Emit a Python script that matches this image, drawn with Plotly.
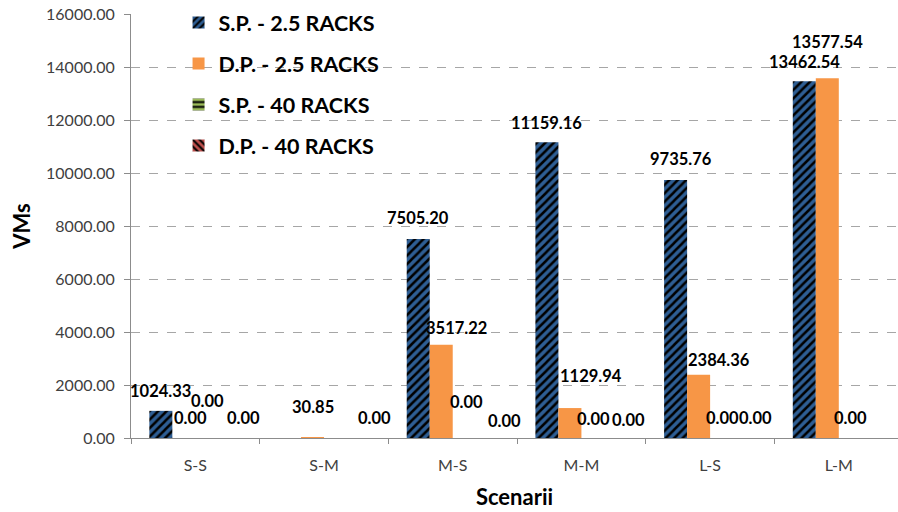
import plotly.graph_objects as go

# Scenario categories and VM counts per configuration
scenarios = ["S-S", "S-M", "M-S", "M-M", "L-S", "L-M"]
series_names = ["S.P. - 2.5 RACKS", "D.P. - 2.5 RACKS", "S.P. - 40 RACKS", "D.P. - 40 RACKS"]
sp_25 = [1024.33, 0.00, 7505.20, 11159.16, 9735.76, 13462.54]
dp_25 = [0.00, 30.85, 3517.22, 1129.94, 2384.36, 13577.54]
sp_40 = [0.00, 0.00, 0.00, 0.00, 0.00, 0.00]
dp_40 = [0.00, 0.00, 0.00, 0.00, 0.00, 0.00]
y_ticks = [0, 2000, 4000, 6000, 8000, 10000, 12000, 14000, 16000]

values = [sp_25, dp_25, sp_40, dp_40]

# Styling per series
colors = ["#2E5E94", "#F79646", "#9BBB59", "#C0504D"]
patterns = ["/", "", "-", "\\"]

# Data-label placement: pixel nudges relative to each bar's centre/top;
# None means the label is not shown.
label_nudge = [
    [(0, -20), None, (0, -21), (0, -19), (5, -21), (0, -19)],
    [(7, -20), (0, -30), (15, -17), (21, -32), (20, -15), (0, -36)],
    [(1, -37), None, (2, -36), (1, -19), (1, -20), (0, -20)],
    [(14, -20), (16, -20), (17, -17), (13, -18), (11, -20), None],
]

BARGAP = 0.285
n_series = len(values)
bar_w = (1 - BARGAP) / n_series

FONT = "Lato, 'Open Sans', sans-serif"

fig = go.Figure()
for j, (name, vals) in enumerate(zip(series_names, values)):
    marker = dict(color=colors[j], line=dict(width=0))
    if patterns[j]:
        marker["pattern"] = dict(shape=patterns[j], fgcolor="#000000",
                                 bgcolor=colors[j], size=6, solidity=0.42,
                                 fillmode="replace")
    fig.add_trace(go.Bar(
        x=scenarios, y=vals, name=name, marker=marker,
        legendgroup=f"g{j}", hoverinfo="skip",
    ))

annotations = []
for j, vals in enumerate(values):
    offset = (j - (n_series - 1) / 2) * bar_w
    for i, v in enumerate(vals):
        nudge = label_nudge[j][i]
        if nudge is None:
            continue
        annotations.append(dict(
            x=i + offset, y=v, xref="x", yref="y",
            text=f"{v:.2f}", showarrow=False,
            xshift=nudge[0], yshift=-nudge[1],
            font=dict(family=FONT, size=16.5, color="#000000", weight="bold"),
            xanchor="center", yanchor="middle",
        ))

fig.update_layout(
    width=898, height=512,
    margin=dict(l=131, r=0, t=14, b=74),
    paper_bgcolor="white", plot_bgcolor="white",
    barmode="group", bargap=BARGAP, bargroupgap=0,
    font=dict(family=FONT, color="#404040"),
    showlegend=True,
    legend=dict(
        x=0.062, y=1.028, xanchor="left", yanchor="top",
        font=dict(family=FONT, size=21.5, color="#000000", weight="bold"),
        bgcolor="rgba(0,0,0,0)", traceorder="grouped",
        tracegroupgap=10, itemwidth=30,
    ),
    annotations=annotations,
    xaxis=dict(
        type="category", range=[-0.5, 5.46],
        showline=True, linecolor="#8C8C8C", linewidth=1,
        ticks="outside", tickson="boundaries", ticklen=5, tickcolor="#8C8C8C",
        tickfont=dict(family=FONT, size=16, color="#404040"),
        ticklabelstandoff=13,
        showgrid=False,
        title=dict(text="Scenarii", standoff=16,
                   font=dict(family=FONT, size=22, color="#000000", weight="bold")),
    ),
    yaxis=dict(
        range=[0, 16000], tickvals=y_ticks, tickformat=".2f",
        showline=True, linecolor="#8C8C8C", linewidth=1,
        ticks="outside", ticklen=6, tickcolor="#8C8C8C",
        tickfont=dict(family=FONT, size=16, color="#404040"),
        ticklabelstandoff=6,
        showgrid=True, gridcolor="#A6A6A6", griddash="dash", gridwidth=1,
        zeroline=False,
        title=dict(text="VMs", standoff=9,
                   font=dict(family=FONT, size=22, color="#000000", weight="bold")),
    ),
)

fig.write_html("out.html")
